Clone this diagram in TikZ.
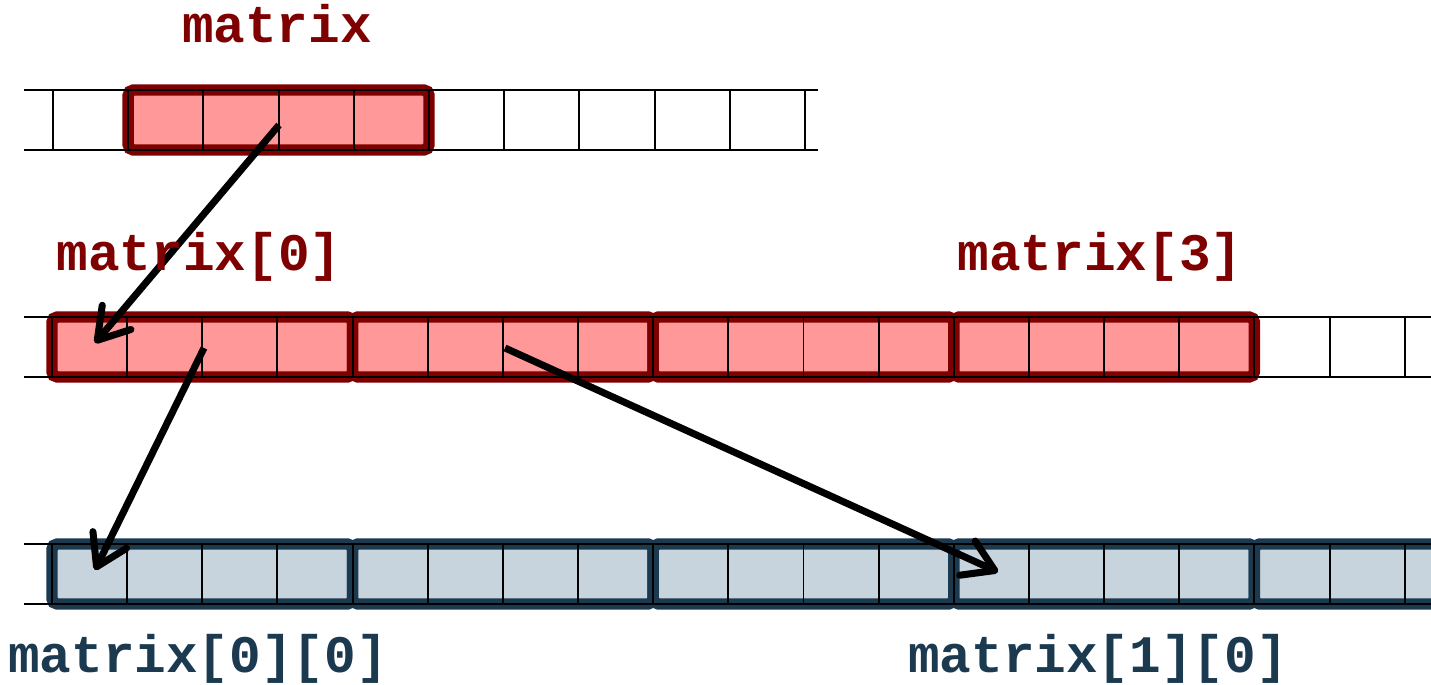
\documentclass[tikz,border=0pt]{standalone}
\usepackage{fontspec}
\setmonofont{Liberation Mono}
\usepackage{tikz}
\usetikzlibrary{arrows.meta}
\definecolor{ptrfill}{HTML}{FF9999}
\definecolor{ptrline}{HTML}{7F0000}
\definecolor{valfill}{HTML}{C8D4DD}
\definecolor{valline}{HTML}{1B3A50}
\tikzset{
  lbl/.style={font=\fontsize{30}{36}\selectfont\ttfamily\bfseries,inner sep=0pt,anchor=base},
  redblk/.style={fill=ptrfill,draw=ptrline,line width=6.5pt,rounded corners=3pt},
  blueblk/.style={fill=valfill,draw=valline,line width=6.5pt,rounded corners=3pt},
  cellline/.style={line width=1.1pt,black},
  ptr/.style={line width=4pt,-{Straight Barb[length=6mm,width=7.5mm,round]}}
}

\begin{document}
\begin{tikzpicture}[x=0.02cm,y=-0.02cm]
          %\draw[very thin,lightgray] (0,0) grid[step=100] (1431,685);
          \useasboundingbox (0,0) rectangle (1431,685);
          \clip (0,0) rectangle (1431,685);
          \draw[redblk] (128.2,90) rectangle (429,150);
          \foreach \a in {0,4,8,12} \draw[redblk] ({52+75.15*\a},317) rectangle ({52+75.15*(\a+4)},377);
          \foreach \a in {0,4,...,16} \draw[blueblk] ({52+75.15*\a},544) rectangle ({52+75.15*(\a+4)},604);
          \draw[cellline] (24,90)--(818,90) (24,150)--(818,150);
          \foreach \k in {0,...,10} \draw[cellline] ({53+75.2*\k},90)--({53+75.2*\k},150);
          \foreach \y in {317,544} {
            \draw[cellline] (24,\y)--(1431,\y) (24,\y+60)--(1431,\y+60);
            \foreach \k in {0,...,18} \draw[cellline] ({52+75.15*\k},\y)--({52+75.15*\k},\y+60);
          }
          \coordinate (m) at (279,125);
          \coordinate (m0) at (95,343);
          \coordinate (m0in) at (204,348);
          \coordinate (m1in) at (505,348);
          \coordinate (m00) at (95,570);
          \coordinate (m10) at (998,572);
          \draw[ptr] (m)--(m0);
          \draw[ptr] (m0in)--(m00);
          \draw[ptr] (m1in)--(m10);
          \node[lbl,text=ptrline] (lm) at (277,43) {matrix};
          \node[lbl,text=ptrline] (lm0) at (199,271) {matrix[0]};
          \node[lbl,text=ptrline] (lm3) at (1100,271) {matrix[3]};
          \node[lbl,text=valline] (lm00) at (198,673) {matrix[0][0]};
          \node[lbl,text=valline] (lm10) at (1098,673) {matrix[1][0]};
        \end{tikzpicture}
\end{document}
